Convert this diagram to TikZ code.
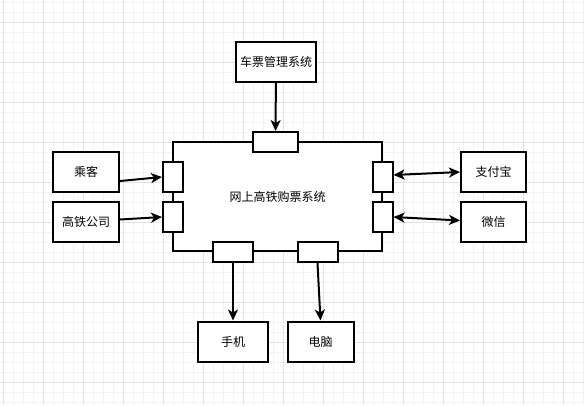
\documentclass[tikz,border=0pt]{standalone}
\usepackage{fontspec}
\newfontfamily\cjk{Noto Sans CJK SC}
\usetikzlibrary{arrows.meta, positioning}
\definecolor{gridminor}{HTML}{F3F3F3}
\definecolor{gridmajor}{HTML}{E3E3E3}

\begin{document}
\begin{tikzpicture}[x=1pt, y=-1pt, >={Stealth[length=11pt, width=10pt, inset=3pt]},
    box/.style={draw, line width=2pt, fill=white, inner sep=0pt, minimum height=40pt, font=\cjk\fontsize{12}{14}\selectfont},
    port/.style={draw, line width=2pt, fill=white, inner sep=0pt},
    link/.style={line width=2pt}]
    \useasboundingbox (0,0) rectangle (584,405);
    \foreach \x in {3,13,...,583} { \draw[gridminor, line width=1pt] (\x,0) -- (\x,405); }
    \foreach \y in {2,12,...,402} { \draw[gridminor, line width=1pt] (0,\y) -- (584,\y); }
    \foreach \x in {3,43,...,583} { \draw[gridmajor, line width=1pt] (\x,0) -- (\x,405); }
    \foreach \y in {22,62,...,382} { \draw[gridmajor, line width=1pt] (0,\y) -- (584,\y); }

    \node[box, minimum width=209pt, minimum height=109pt] (system) at (277.5,196.5) {网上高铁购票系统};
    \node[port, minimum width=45pt, minimum height=20pt] (tport) at (275.5,142) {};
    \node[port, minimum width=20pt, minimum height=30pt] (lport1) at (173,177) {};
    \node[port, minimum width=20pt, minimum height=30pt] (lport2) at (173,217) {};
    \node[port, minimum width=20pt, minimum height=30pt] (rport1) at (382.5,177) {};
    \node[port, minimum width=20pt, minimum height=30pt] (rport2) at (382.5,217) {};
    \node[port, minimum width=40pt, minimum height=20pt] (bport1) at (233,252) {};
    \node[port, minimum width=40pt, minimum height=20pt] (bport2) at (317.5,252) {};

    \node[box, minimum width=80pt] (ticket) at (276,62) {车票管理系统};
    \node[box, minimum width=66pt] (passenger) at (86,172) {乘客};
    \node[box, minimum width=66pt] (company) at (86,221.5) {高铁公司};
    \node[box, minimum width=65pt] (alipay) at (493.5,172) {支付宝};
    \node[box, minimum width=65pt] (wechat) at (493.5,221.5) {微信};
    \node[box, minimum width=70pt] (phone) at (233,341.5) {手机};
    \node[box, minimum width=66pt] (pc) at (320.5,341.5) {电脑};

    \draw[link, ->] (ticket) -- (tport);
    \draw[link, ->] ([yshift=-9pt]passenger.east) -- (lport1.west);
    \draw[link, ->] ([yshift=2pt]company.east) -- (lport2.west);
    \draw[link, <->] ([yshift=2pt]rport1.east) -- (alipay.west);
    \draw[link, <->] (rport2.east) -- ([yshift=1pt]wechat.west);
    \draw[link, ->] (bport1) -- (phone);
    \draw[link, ->] (bport2.south) -- (pc.north);
\end{tikzpicture}
\end{document}
